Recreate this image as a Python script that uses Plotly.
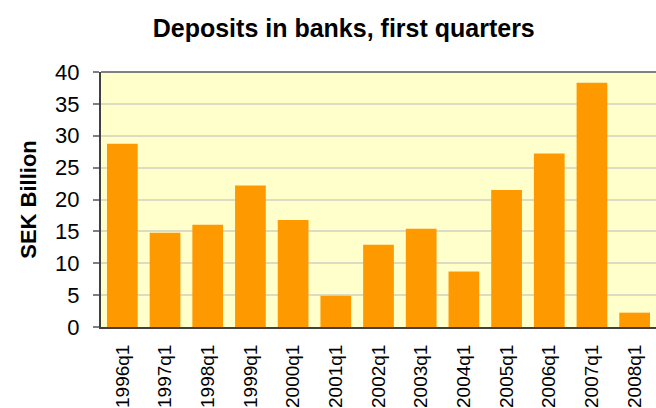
import plotly.graph_objects as go

quarters = ["1996q1", "1997q1", "1998q1", "1999q1", "2000q1", "2001q1", "2002q1",
            "2003q1", "2004q1", "2005q1", "2006q1", "2007q1", "2008q1"]
deposits = [28.75, 14.8, 16.05, 22.2, 16.8, 4.9, 12.9, 15.4, 8.7, 21.5, 27.2, 38.3, 2.25]
y_ticks = [0, 5, 10, 15, 20, 25, 30, 35, 40]

FONT = "Liberation Sans, Arial, sans-serif"

fig = go.Figure(go.Bar(
    x=quarters, y=deposits,
    marker=dict(color="#FF9900", line=dict(width=0)),
))

fig.update_layout(
    width=656, height=408,
    margin=dict(l=101, r=0, t=72, b=81),
    paper_bgcolor="white",
    plot_bgcolor="#FFFFCC",
    bargap=0.28,
    showlegend=False,
    title=dict(text="<b>Deposits in banks, first quarters</b>",
               x=0.524, xanchor="center", y=1 - 28 / 408, yanchor="middle",
               font=dict(family=FONT, size=25, color="black")),
    font=dict(family=FONT, color="black"),
    shapes=[dict(type="line", xref="paper", yref="paper", x0=0, x1=1, y0=1, y1=1,
                 line=dict(color="#808080", width=2))],
)

fig.update_xaxes(
    type="category", range=[-0.5, 12.5],
    tickangle=-90, tickfont=dict(family=FONT, size=19, color="black"),
    ticklabelstandoff=8,
    showline=True, linecolor="#404040", linewidth=2,
    ticks="", showgrid=False, zeroline=False,
)

fig.update_yaxes(
    range=[0, 40], tickvals=y_ticks,
    tickfont=dict(family=FONT, size=22, color="black"),
    ticklabelstandoff=9,
    showline=True, linecolor="#404040", linewidth=2,
    ticks="outside", ticklen=6, tickwidth=2, tickcolor="#808080",
    showgrid=True, gridcolor="#DCDCC4", gridwidth=2,
    zeroline=False,
    title=dict(text="<b>SEK Billion</b>", font=dict(family=FONT, size=22, color="black"),
               standoff=12),
)

fig.write_html("out.html", config={"displayModeBar": False},
               post_script="document.body.style.margin='0px';document.body.style.overflow='hidden';")
